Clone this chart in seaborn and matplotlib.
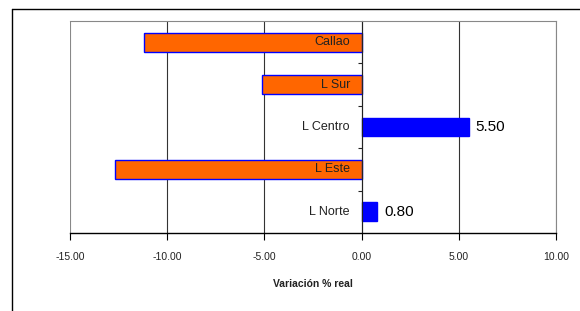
import matplotlib
matplotlib.use("Agg")
import matplotlib.pyplot as plt
import seaborn as sns
import pandas as pd

# values (top to bottom)
zonas = ["Callao", "L Sur", "L Centro", "L Este", "L Norte"]
variacion = [-11.18, -5.14, 5.50, -12.66, 0.80]
xticks = [-15, -10, -5, 0, 5, 10]

df = pd.DataFrame({"zona": zonas, "var": variacion})
colores = {z: ("#FF6600" if v < 0 else "#0000FF") for z, v in zip(zonas, variacion)}

sns.set_style("white")
plt.rcParams["font.family"] = ["Liberation Sans", "DejaVu Sans"]

fig = plt.figure(figsize=(5.8, 3.11), dpi=100)
ax = fig.add_axes([70 / 580, 1 - 233 / 311, 486 / 580, 212 / 311])

sns.barplot(data=df, x="var", y="zona", hue="zona", palette=colores, orient="h",
            width=0.44, saturation=1, edgecolor="#0000FF", linewidth=1.0,
            legend=False, ax=ax)

ax.set_xlim(-15, 10)
ax.set_ylim(4.5, -0.5)
ax.set_xticks(xticks)
ax.set_xticklabels([f"{t:.2f}" for t in xticks], fontsize=7.5, color="#222222")
ax.set_yticks([0.5, 1.5, 2.5, 3.5])
ax.set_yticklabels([])
ax.set_ylabel("")
ax.set_xlabel("Variación % real", fontsize=7.5, fontweight="bold", labelpad=12,
              color="#222222")

ax.grid(axis="x", color="#333333", linewidth=0.8)
ax.grid(axis="y", visible=False)
ax.set_axisbelow(True)
gl = ax.get_xgridlines()
gl[0].set_color("#888888")
gl[-1].set_color("#888888")

ax.spines["left"].set_position(("data", 0))
ax.spines["left"].set_color("#222222")
ax.spines["left"].set_linewidth(0.8)
ax.spines["top"].set_color("#888888")
ax.spines["right"].set_color("#888888")
ax.spines["bottom"].set_color("black")
ax.spines["bottom"].set_linewidth(1.0)
ax.tick_params(axis="x", direction="out", length=5, width=0.8, color="black", pad=9, bottom=True)
ax.tick_params(axis="y", direction="out", length=3, width=0.8, color="#222222", left=True)

for i, (z, v) in enumerate(zip(zonas, variacion)):
    ax.text(-0.6, i, z, ha="right", va="center", fontsize=9, color="#222222")
    if v > 0:
        ax.text(v + 0.35, i, f"{v:.2f}", ha="left", va="center", fontsize=11, color="black")

# outer chart frame
fig.add_artist(plt.Line2D([12 / 580, 1], [1 - 8.5 / 311, 1 - 8.5 / 311], color="black", lw=1.0))
fig.add_artist(plt.Line2D([12 / 580, 12 / 580], [0, 1 - 8.5 / 311], color="black", lw=1.0))

fig.savefig("out.png", dpi=100)
